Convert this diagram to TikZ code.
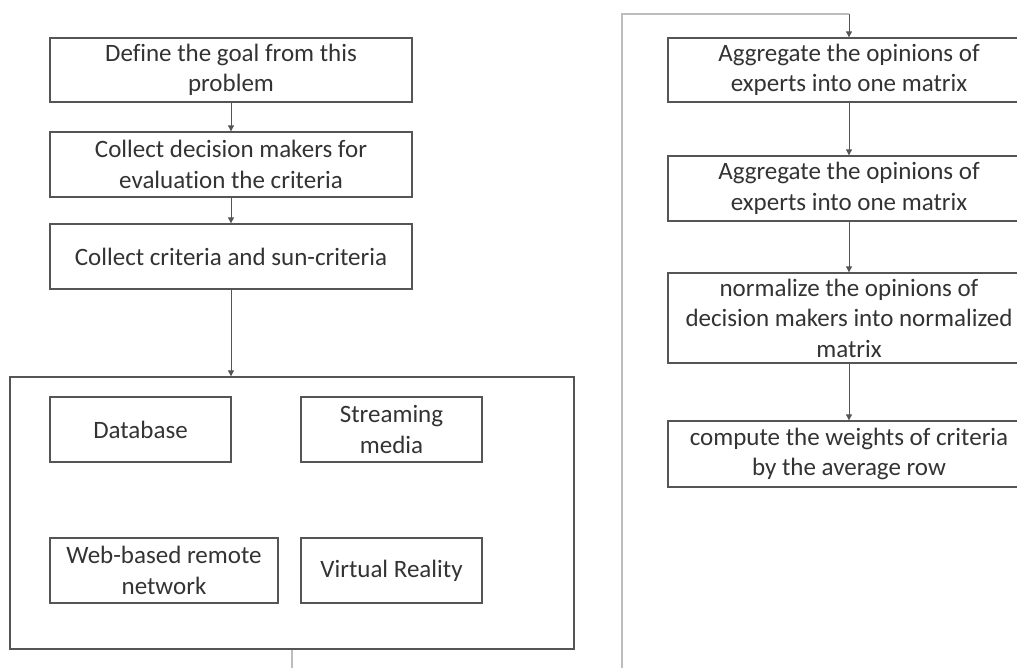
\documentclass[tikz,border=0pt]{standalone}
\usepackage{fontspec}
\setmainfont{Carlito}[Ligatures=NoCommon]
\usetikzlibrary{arrows.meta}
\definecolor{boxline}{HTML}{555555}
\definecolor{txt}{HTML}{333333}
\definecolor{conn}{HTML}{BDBDBD}
\tikzset{
  stepbox/.style={draw=boxline, line width=1.3pt, rectangle, align=center, inner sep=2pt,
    font=\fontsize{25}{30.5}\selectfont, text=txt},
  flow/.style={draw=boxline, line width=0.9pt, -{Triangle[width=6pt,length=6pt]}},
  loopline/.style={draw=conn, line width=2pt},
}
\begin{document}
\begin{tikzpicture}[x=1pt,y=-1pt]
\useasboundingbox (0,0) rectangle (1017,668);
\clip (0,0) rectangle (1017,668);
% left column
\node[stepbox, minimum width=362pt, minimum height=64pt] (b1) at (231,70) {Define the goal from this\\problem};
\node[stepbox, minimum width=362pt, minimum height=65pt] (b2) at (231,164.5) {Collect decision makers for\\evaluation the criteria};
\node[stepbox, minimum width=362pt, minimum height=65pt] (b3) at (231,256.5) {Collect criteria and sun-criteria};
\node[stepbox, minimum width=564pt, minimum height=272pt] (big) at (292,513) {};
\node[stepbox, minimum width=181pt, minimum height=65pt] (db) at (140.5,429.5) {Database};
\node[stepbox, minimum width=181pt, minimum height=65pt] (sm) at (391.5,429.5) {Streaming\\media};
\node[stepbox, minimum width=228pt, minimum height=65pt] (web) at (164,570.5) {Web-based remote\\network};
\node[stepbox, minimum width=181pt, minimum height=65pt] (vr) at (391.5,570.5) {Virtual Reality};
% right column
\node[stepbox, minimum width=362pt, minimum height=64pt] (r1) at (849,70) {Aggregate the opinions of\\experts into one matrix};
\node[stepbox, minimum width=362pt, minimum height=65pt] (r2) at (849,188.5) {Aggregate the opinions of\\experts into one matrix};
\node[stepbox, minimum width=362pt, minimum height=90pt] (r3) at (849,318) {normalize the opinions of\\decision makers into normalized\\matrix};
\node[stepbox, minimum width=362pt, minimum height=66pt] (r4) at (849,454) {compute the weights of criteria\\by the average row};
% arrows
\draw[flow] (b1) -- (b2);
\draw[flow] (b2) -- (b3);
\draw[flow] (b3.south) -- (big.north -| b3.south);
\draw[flow] (r1) -- (r2);
\draw[flow] (r2) -- (r3);
\draw[flow] (r3) -- (r4);
% loop connector (cut at picture edge)
\coordinate (endA) at (292,670);
\coordinate (endB) at (622,670);
\coordinate (topL) at (622,14);
\draw[loopline] (big.south) -- (endA);
\draw[loopline] (endB) -- (topL) -- (topL -| r1.north);
\draw[flow] (topL -| r1.north) -- (r1.north);
\end{tikzpicture}
\end{document}
